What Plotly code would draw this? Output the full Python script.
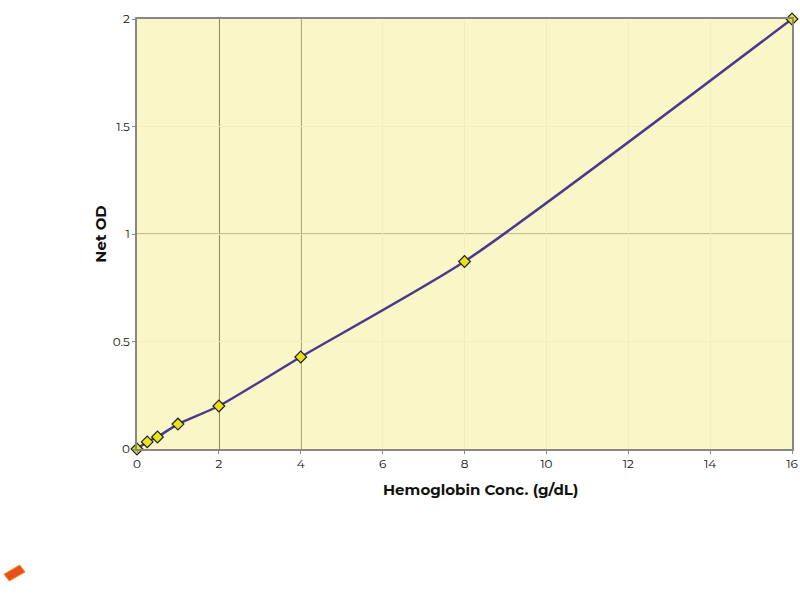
import plotly.graph_objects as go

conc = [0, 0.25, 0.5, 1, 2, 4, 8, 16]
net_od = [0, 0.033, 0.056, 0.116, 0.2, 0.428, 0.872, 2.0]
x_ticks = [0, 2, 4, 6, 8, 10, 12, 14, 16]
y_ticks = [0, 0.5, 1, 1.5, 2]
dark_x = [2, 4]
mid_x = [8]
mid_y = [0.5, 1]

fig = go.Figure()
fig.add_trace(go.Scatter(
    x=conc, y=net_od, mode="lines+markers",
    line=dict(color="#4a3a8c", width=2.5, shape="spline", smoothing=0.6),
    marker=dict(symbol="diamond", size=9, color="#e6e21c", line=dict(color="#222", width=1.2)),
    cliponaxis=False, showlegend=False,
))

shapes = []
for v in dark_x:
    shapes.append(dict(type="line", xref="x", yref="paper", x0=v, x1=v, y0=0, y1=1,
                       line=dict(color="#1a1810", width=1.2), layer="between"))
for v in mid_x:
    shapes.append(dict(type="line", xref="x", yref="paper", x0=v, x1=v, y0=0, y1=1,
                       line=dict(color="#8a8668", width=1), layer="between"))
for v in mid_y:
    shapes.append(dict(type="line", xref="paper", yref="y", x0=0, x1=1, y0=v, y1=v,
                       line=dict(color="#8a8668", width=1), layer="between"))
# small logo
shapes.append(dict(type="path", xref="paper", yref="paper",
                   path="M -0.203 -0.291 L -0.179 -0.270 L -0.171 -0.286 L -0.195 -0.307 Z",
                   fillcolor="#e8501a", line=dict(color="#f08a28", width=1)))
fig.update_layout(shapes=shapes)

fig.add_annotation(text="<b>Hemoglobin Conc. (g/dL)</b>", xref="paper", yref="paper",
                   x=0.5237, y=-0.095, showarrow=False, font=dict(size=15),
                   xanchor="center", yanchor="middle")

fig.update_layout(
    width=800, height=600,
    margin=dict(l=137, r=8, t=19, b=151, autoexpand=False),
    paper_bgcolor="white", plot_bgcolor="#faf6c8",
    font=dict(family="Montserrat, 'Open Sans', Arial, sans-serif", color="#111", size=12),
    xaxis=dict(range=[0, 16], tickvals=x_ticks, ticktext=[str(v) for v in x_ticks],
               showgrid=True, gridcolor="#f3eebb", gridwidth=1, zeroline=False,
               showline=True, linecolor="#888", linewidth=1.5, mirror=True,
               ticks="outside", ticklen=3, tickcolor="#888"),
    yaxis=dict(range=[0, 2], tickvals=y_ticks, ticktext=["0", "0.5", "1", "1.5", "2"],
               showgrid=True, gridcolor="#f3eebb", gridwidth=1, zeroline=False,
               showline=True, linecolor="#888", linewidth=1.5, mirror=True,
               ticks="outside", ticklen=3, tickcolor="#888",
               title=dict(text="<b>Net OD</b>", font=dict(size=15), standoff=2)),
)

fig.write_html("out.html", config={"displayModeBar": False},
               post_script="document.body.style.margin='0';document.body.style.overflow='hidden';")
